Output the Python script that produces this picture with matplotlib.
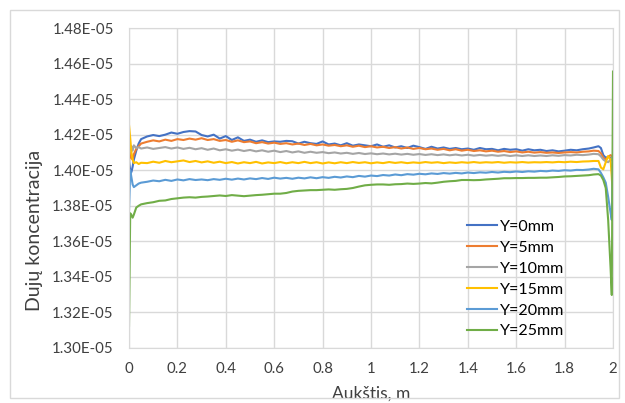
#!/usr/bin/env python3

# gas concentration along the height for several Y positions

import matplotlib.pyplot as plt
from matplotlib.patches import Rectangle
import numpy as np

plt.rcParams['font.family'] = ['Lato', 'DejaVu Sans']

# x grid (m): dense at both ends, 0.025 step in the middle
x_start = [0, 0.005, 0.01, 0.015, 0.02, 0.03, 0.04, 0.05]
x_mid = list(np.round(np.arange(0.075, 1.9001, 0.025), 3))
x_end = [1.92, 1.94, 1.95, 1.96, 1.97, 1.98, 1.99, 1.995, 2.0]
x = np.array(x_start + x_mid + x_end)

labels = ["Y=0mm", "Y=5mm", "Y=10mm", "Y=15mm", "Y=20mm", "Y=25mm"]
colors = ["#4472C4", "#ED7D31", "#A5A5A5", "#FFC000", "#5B9BD5", "#70AD47"]

# values in 1e-5 units
y0 = [1.4058, 1.3995, 1.3990, 1.4020, 1.4060, 1.4110, 1.4150, 1.4175,
      1.4190, 1.4198, 1.4192, 1.4200, 1.4212, 1.4205, 1.4215, 1.4220, 1.4218, 1.4198,
      1.4190, 1.4200, 1.4178, 1.4192, 1.4170, 1.4185, 1.4165, 1.4172, 1.4160, 1.4168,
      1.4158, 1.4162, 1.4160, 1.4165, 1.4163, 1.4150, 1.4160, 1.4152, 1.4148, 1.4162,
      1.4145, 1.4150, 1.4140, 1.4152, 1.4138, 1.4145, 1.4140, 1.4135, 1.4145, 1.4132,
      1.4140, 1.4128, 1.4135, 1.4125, 1.4138, 1.4130, 1.4120, 1.4132, 1.4122, 1.4128,
      1.4120, 1.4125, 1.4118, 1.4122, 1.4115, 1.4125, 1.4118, 1.4120, 1.4112, 1.4120,
      1.4115, 1.4118, 1.4110, 1.4118, 1.4112, 1.4115, 1.4108, 1.4112, 1.4106, 1.4110,
      1.4115, 1.4112, 1.4118, 1.4122,
      1.4128, 1.4135, 1.4125, 1.4085, 1.4070, 1.4075, 1.4070, 1.4060, 1.4050]
y5 = [1.4048, 1.4100, 1.4070, 1.4060, 1.4090, 1.4120, 1.4135, 1.4150,
      1.4160, 1.4168, 1.4162, 1.4172, 1.4165, 1.4175, 1.4170, 1.4178, 1.4172, 1.4180,
      1.4170, 1.4175, 1.4165, 1.4170, 1.4160, 1.4168, 1.4158, 1.4162, 1.4152, 1.4158,
      1.4150, 1.4155, 1.4148, 1.4152, 1.4145, 1.4150, 1.4142, 1.4148, 1.4140, 1.4145,
      1.4138, 1.4142, 1.4135, 1.4140, 1.4132, 1.4138, 1.4130, 1.4135, 1.4128, 1.4132,
      1.4125, 1.4130, 1.4122, 1.4128, 1.4120, 1.4125, 1.4118, 1.4122, 1.4115, 1.4120,
      1.4112, 1.4118, 1.4110, 1.4115, 1.4108, 1.4112, 1.4106, 1.4110, 1.4104, 1.4108,
      1.4102, 1.4106, 1.4100, 1.4104, 1.4099, 1.4102, 1.4098, 1.4100, 1.4097, 1.4100,
      1.4102, 1.4100, 1.4104, 1.4106,
      1.4110, 1.4108, 1.4095, 1.4070, 1.4060, 1.4075, 1.4085, 1.4080, 1.4075]
y10 = [1.4085, 1.4120, 1.4135, 1.4110, 1.4140, 1.4125, 1.4130, 1.4122,
       1.4128, 1.4120, 1.4125, 1.4130, 1.4122, 1.4128, 1.4120, 1.4126, 1.4118, 1.4124,
       1.4115, 1.4122, 1.4112, 1.4118, 1.4110, 1.4116, 1.4108, 1.4114, 1.4106, 1.4112,
       1.4104, 1.4110, 1.4102, 1.4108, 1.4100, 1.4106, 1.4098, 1.4104, 1.4098, 1.4102,
       1.4096, 1.4100, 1.4094, 1.4098, 1.4092, 1.4097, 1.4091, 1.4095, 1.4090, 1.4094,
       1.4089, 1.4093, 1.4088, 1.4092, 1.4087, 1.4091, 1.4086, 1.4090, 1.4085, 1.4089,
       1.4084, 1.4088, 1.4083, 1.4087, 1.4082, 1.4086, 1.4082, 1.4085, 1.4081, 1.4085,
       1.4080, 1.4084, 1.4080, 1.4084, 1.4080, 1.4083, 1.4080, 1.4084, 1.4081, 1.4085,
       1.4083, 1.4087, 1.4085, 1.4088,
       1.4092, 1.4090, 1.4078, 1.4060, 1.4050, 1.4045, 1.4060, 1.4065, 1.4060]
y15 = [1.4255, 1.4180, 1.4100, 1.4060, 1.4040, 1.4045, 1.4035, 1.4042,
       1.4040, 1.4048, 1.4042, 1.4052, 1.4045, 1.4050, 1.4055, 1.4046, 1.4052, 1.4044,
       1.4050, 1.4042, 1.4048, 1.4040, 1.4046, 1.4038, 1.4045, 1.4040, 1.4047, 1.4038,
       1.4044, 1.4040, 1.4046, 1.4039, 1.4045, 1.4040, 1.4047, 1.4040, 1.4045, 1.4038,
       1.4044, 1.4039, 1.4045, 1.4040, 1.4046, 1.4041, 1.4045, 1.4039, 1.4044, 1.4040,
       1.4046, 1.4041, 1.4045, 1.4040, 1.4044, 1.4041, 1.4046, 1.4042, 1.4045, 1.4040,
       1.4044, 1.4041, 1.4045, 1.4042, 1.4046, 1.4042, 1.4045, 1.4043, 1.4046, 1.4042,
       1.4045, 1.4043, 1.4046, 1.4043, 1.4045, 1.4044, 1.4046, 1.4044, 1.4047, 1.4045,
       1.4048, 1.4046, 1.4049, 1.4050,
       1.4052, 1.4052, 1.4015, 1.4005, 1.4045, 1.4080, 1.4060, 1.3960, 1.3835]
y20 = [1.3770, 1.4000, 1.3960, 1.3920, 1.3905, 1.3915, 1.3925, 1.3930,
       1.3935, 1.3942, 1.3938, 1.3946, 1.3940, 1.3948, 1.3943, 1.3950, 1.3945, 1.3948,
       1.3944, 1.3950, 1.3946, 1.3952, 1.3947, 1.3953, 1.3948, 1.3954, 1.3950, 1.3956,
       1.3951, 1.3958, 1.3953, 1.3957, 1.3952, 1.3958, 1.3954, 1.3960, 1.3955, 1.3961,
       1.3957, 1.3963, 1.3959, 1.3965, 1.3961, 1.3968, 1.3964, 1.3970, 1.3967, 1.3973,
       1.3970, 1.3976, 1.3972, 1.3978, 1.3975, 1.3980, 1.3977, 1.3982, 1.3979, 1.3984,
       1.3981, 1.3985, 1.3982, 1.3987, 1.3984, 1.3988, 1.3986, 1.3990, 1.3987, 1.3991,
       1.3989, 1.3993, 1.3990, 1.3994, 1.3992, 1.3996, 1.3994, 1.3998, 1.3996, 1.4000,
       1.3998, 1.4002, 1.4001, 1.4004,
       1.4008, 1.4005, 1.3985, 1.3960, 1.3930, 1.3850, 1.3760, 1.3720, 1.4080]
y25 = [1.3125, 1.3758, 1.3748, 1.3733, 1.3750, 1.3790, 1.3800, 1.3808,
       1.3815, 1.3820, 1.3828, 1.3830, 1.3838, 1.3842, 1.3846, 1.3848, 1.3846, 1.3850,
       1.3852, 1.3855, 1.3858, 1.3855, 1.3860, 1.3857, 1.3854, 1.3857, 1.3860, 1.3862,
       1.3865, 1.3868, 1.3868, 1.3872, 1.3880, 1.3884, 1.3886, 1.3888, 1.3888, 1.3890,
       1.3892, 1.3890, 1.3893, 1.3895, 1.3900, 1.3908, 1.3915, 1.3918, 1.3920, 1.3920,
       1.3918, 1.3921, 1.3922, 1.3925, 1.3923, 1.3925, 1.3928, 1.3926, 1.3930, 1.3935,
       1.3938, 1.3940, 1.3945, 1.3945, 1.3944, 1.3945, 1.3948, 1.3950, 1.3952, 1.3955,
       1.3955, 1.3956, 1.3956, 1.3957, 1.3957, 1.3958, 1.3958, 1.3960, 1.3962, 1.3965,
       1.3966, 1.3968, 1.3970, 1.3972,
       1.3976, 1.3978, 1.3970, 1.3945, 1.3900, 1.3720, 1.3450, 1.3298, 1.4555]

series = [y0, y5, y10, y15, y20, y25]

yticks = np.arange(1.30, 1.4801, 0.02)
xticks = np.round(np.arange(0, 2.001, 0.2), 1)

fig = plt.figure(figsize=(6.25, 4.03), dpi=100)
ax = fig.add_axes([0.2064, 0.1365, 0.7744, 0.794])

for ys, lab, c in zip(series, labels, colors):
	ax.plot(x, np.array(ys) * 1e-5, c=c, lw=1.5, label=lab)

ax.set_xlim(0, 2)
ax.set_ylim(1.30e-5, 1.48e-5)
ax.set_yticks(yticks * 1e-5)
ax.set_yticklabels(["%.2fE-05" % v for v in yticks])
ax.set_xticks(xticks)
ax.set_xticklabels(["%g" % v for v in xticks])
ax.tick_params(length=0, labelsize=10.8, colors="#404040")
ax.tick_params(axis="y", pad=11)
ax.tick_params(axis="x", pad=10)
ax.grid(True, color="#d9d9d9", lw=1)
for s in ax.spines.values():
	s.set_color("#d9d9d9")

ax.set_xlabel("Aukštis, m", fontsize=12.5, color="#404040", labelpad=7)
ax.set_ylabel("Dujų koncentracija", fontsize=14, color="#404040")
ax.yaxis.set_label_coords(-0.178, 0.366)

ax.legend(loc="lower right", frameon=False, fontsize=11.5, handlelength=1.9,
	handletextpad=0.2, labelspacing=0.42, borderaxespad=0.2,
	bbox_to_anchor=(0.92, 0.0))

# outer chart border
fig.patches.append(Rectangle((10 / 625, 5 / 403), 609 / 625, 388 / 403,
	transform=fig.transFigure, fill=False, ec="#d9d9d9", lw=1))

plt.savefig("out.png", dpi=100)
